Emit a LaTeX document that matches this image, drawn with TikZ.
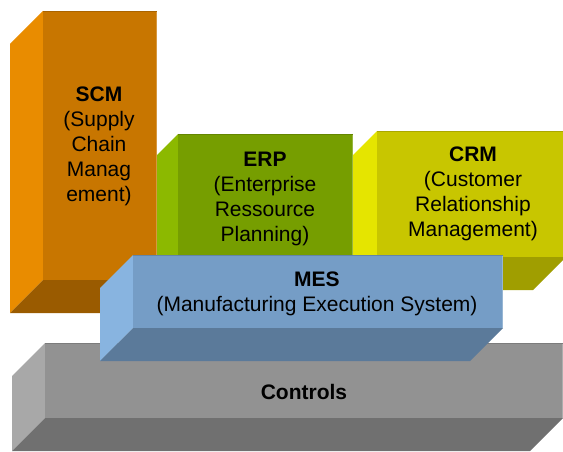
\documentclass[tikz,border=0pt]{standalone}
\usepackage{fontspec}
\setmainfont{Liberation Sans}

\definecolor{scmfront}{RGB}{200,118,0}
\definecolor{scmside}{RGB}{233,140,0}
\definecolor{scmbottom}{RGB}{154,91,0}
\definecolor{erpfront}{RGB}{118,158,0}
\definecolor{erpside}{RGB}{140,185,0}
\definecolor{erpbottom}{RGB}{90,122,0}
\definecolor{crmfront}{RGB}{200,198,0}
\definecolor{crmside}{RGB}{229,229,0}
\definecolor{crmbottom}{RGB}{160,158,0}
\definecolor{mesfront}{RGB}{117,157,198}
\definecolor{messide}{RGB}{136,180,224}
\definecolor{mesbottom}{RGB}{91,122,154}
\definecolor{ctlfront}{RGB}{146,146,146}
\definecolor{ctlside}{RGB}{168,168,168}
\definecolor{ctlbottom}{RGB}{112,112,112}

% #1 colour prefix, (#2,#3) -- (#4,#5) front face
\newcommand\slab[5]{%
   \fill[#1side] (#2,#3) -- (#2,#5) -- (#2-\offs,#5+\offs) -- (#2-\offs,#3+\offs) -- cycle;
   \fill[#1bottom] (#2,#5) -- (#4,#5) -- (#4-\offs,#5+\offs) -- (#2-\offs,#5+\offs) -- cycle;
   \fill[#1front] (#2,#3) rectangle (#4,#5);
   \draw[#1front!75!white,line width=1pt] (#4-0.5,#3) -- (#4-0.5,#5);
   \draw[#1front!85!black,line width=1.2pt] (#2,#3+0.6) -- (#4,#3+0.6);}

\begin{document}
\begin{tikzpicture}[x=1pt,y=-1pt,
   lbl/.style={align=center,anchor=north,inner sep=0pt,font=\fontsize{21}{25}\selectfont}]
   \def\offs{33}
   \useasboundingbox (0,0) rectangle (563,452);
   % from the back to the front
   \slab{ctl}{45}{343}{563}{418}
   \slab{crm}{377}{131}{566}{257}
   \slab{erp}{178}{134}{353}{265}
   \slab{scm}{43}{11}{157}{280}
   \slab{mes}{133}{255}{503}{328}
   \node[lbl] (scm) at (99,87) {\textbf{SCM}\\(Supply\\Chain\\Manag\\ement)};
   \node[lbl] (erp) at (265,152) {\textbf{ERP}\\(Enterprise\\Ressource\\Planning)};
   \node[lbl] (crm) at (473,147) {\textbf{CRM}\\(Customer\\Relationship\\Management)};
   \node[lbl] (mes) at (317,272) {\textbf{MES}\\(Manufacturing Execution System)};
   \node[lbl] (ctl) at (304,384) {\textbf{Controls}};
\end{tikzpicture}
\end{document}
